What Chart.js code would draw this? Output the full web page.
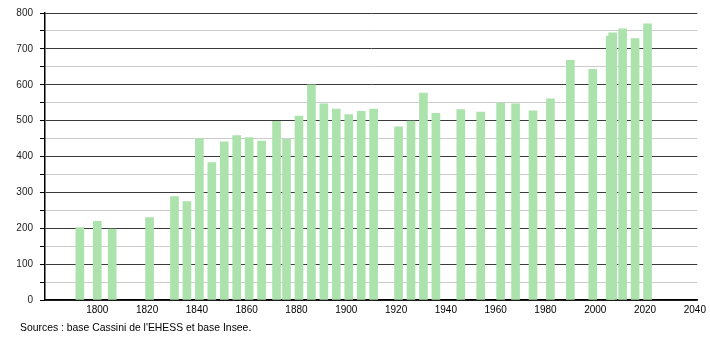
<!DOCTYPE html>
<html>
<head>
<meta charset="utf-8">
<script src="https://cdn.jsdelivr.net/npm/chart.js@4.4.1/dist/chart.umd.min.js"></script>
<style>
    body { margin: 0; background: #fff; }
    #wrap { position: relative; width: 710px; height: 340px; }
    #source { position: absolute; left: 20px; top: 322px; font: 10.4px "Liberation Sans", Arial, sans-serif; color: #000; }
</style>
</head>
<body>
<div id="wrap">
    <canvas id="popChart" width="710" height="340"></canvas>
    <div id="source">Sources : base Cassini de l'EHESS et base Insee.</div>
</div>
<script>
// census years and population
const years = [1793, 1800, 1806, 1821, 1831, 1836, 1841, 1846, 1851, 1856,
    1861, 1866, 1872, 1876, 1881, 1886, 1891, 1896, 1901, 1906,
    1911, 1921, 1926, 1931, 1936, 1946, 1954, 1962, 1968, 1975,
    1982, 1990, 1999, 2006, 2007, 2011, 2016, 2021];
const population = [202, 219, 198, 230, 288, 274, 450, 383, 441, 458,
    453, 443, 498, 448, 513, 600, 547, 532, 517, 526,
    532, 483, 499, 577, 520, 531, 524, 549, 547, 527,
    561, 668, 643, 736, 745, 756, 729, 770];
const xTicks = [1800, 1820, 1840, 1860, 1880, 1900, 1920, 1940, 1960, 1980, 2000, 2020, 2040];
const yTicks = [0, 50, 100, 150, 200, 250, 300, 350, 400, 450, 500, 550, 600, 650, 700, 750, 800];

const ctx = document.getElementById('popChart').getContext('2d');
const font = { family: '"Liberation Sans", Arial, sans-serif', size: 10 };

new Chart(ctx, {
    type: 'bar',
    data: {
        datasets: [{
            data: years.map((y, i) => ({ x: y, y: population[i] })),
            backgroundColor: 'rgb(172, 226, 172)',
            borderWidth: 0,
            barThickness: 8
        }]
    },
    options: {
        responsive: false,
        animation: false,
        layout: { padding: { top: 8, right: 8, left: 1, bottom: 0 } },
        plugins: { legend: { display: false }, tooltip: { enabled: false } },
        scales: {
            x: {
                type: 'linear',
                min: 1779,
                max: 2041,
                offset: false,
                afterBuildTicks: scale => { scale.ticks = xTicks.map(v => ({ value: v })); },
                afterFit: scale => { scale.height = 40; },
                grid: { display: false, drawTicks: false, offset: false },
                border: { color: '#000', width: 1.5 },
                ticks: { color: '#000', font: font, padding: 4, maxRotation: 0, autoSkip: false, callback: v => String(v) }
            },
            y: {
                min: 0,
                max: 800,
                afterBuildTicks: scale => { scale.ticks = yTicks.map(v => ({ value: v })); },
                afterFit: scale => { scale.width = 44; },
                grid: {
                    color: c => (c.tick && c.tick.value % 100 === 0) ? '#3a3a3a' : '#cccccc',
                    tickColor: '#000',
                    tickLength: 5
                },
                border: { color: '#000', width: 1.5 },
                ticks: {
                    color: '#222',
                    font: font,
                    padding: 7,
                    autoSkip: false,
                    callback: v => v % 100 === 0 ? v : ''
                }
            }
        }
    }
});
</script>
</body>
</html>
